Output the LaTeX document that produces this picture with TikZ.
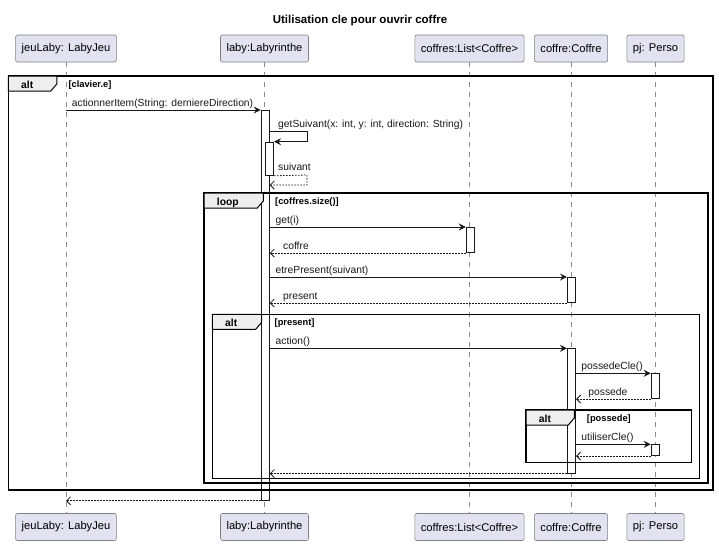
\documentclass[tikz,border=0pt]{standalone}
\usepackage{fontspec}
\setmainfont{Liberation Sans}
\usepackage{tikz}
\usetikzlibrary{arrows.meta, positioning}
\definecolor{partfill}{HTML}{E2E2F0}
\definecolor{tabfill}{HTML}{EEEEEE}
\definecolor{ink}{HTML}{181818}
\tikzstyle{basefont}=[font=\fontsize{10.3}{12}\selectfont]
\tikzstyle{participant}=[font=\fontsize{11.2}{13}\selectfont, draw=ink!55, fill=partfill, rounded corners=2pt, minimum height=27pt, inner xsep=6pt, line width=0.6pt]
\tikzstyle{lifeline}=[ink!50, line width=0.5pt, dash pattern=on 5pt off 5pt]
\tikzstyle{activation}=[draw=ink, fill=white, line width=0.8pt, minimum width=8.3pt, inner sep=0pt, anchor=north]
\tikzstyle{call}=[ink, line width=0.8pt, -{Stealth[length=7pt, width=7pt, inset=2.5pt]}]
\tikzstyle{reply}=[ink, line width=0.8pt, dash pattern=on 1.5pt off 1.5pt, -{Straight Barb[length=4pt, width=8pt]}]
\tikzstyle{msg}=[basefont, ink, anchor=base west, inner sep=0pt]
\tikzstyle{fragment}=[black, line width=1.5pt]
\tikzstyle{keyword}=[font=\fontsize{10.3}{12}\selectfont\bfseries, anchor=base west, inner sep=0pt]
\tikzstyle{guard}=[font=\fontsize{9.3}{11}\selectfont\bfseries, anchor=base west, inner sep=0pt]
% name, keyword, guard, x1, y1, x2, y2, tab width, guard x
\newcommand*{\fragment}[9]{%
	\begin{scope}[local bounding box=#1]
		\draw[fragment] (#4,#5) rectangle (#6,#7);
		\draw[fragment, fill=tabfill, line width=1pt]
			(#4,#5) -- ++(#8,0) -- ++(0,8) -- ++(-6,7) -- (#4,#5+15) -- cycle;
		\node[keyword] (#1-kw) at (#4+12.7,#5+12.5) {#2};
		\node[guard] (#1-guard) at (#9,#5+11.5) {#3};
	\end{scope}
}

\begin{document}
\begin{tikzpicture}[x=1pt, y=-1pt]
	\useasboundingbox (0,0) rectangle (719,544);

	% Title
	\node[font=\fontsize{11.5}{13}\selectfont\bfseries] (title) at (360,20.5)
		{Utilisation cle pour ouvrir coffre};

	% Participants, top and bottom, with their lifelines
	\foreach \name/\content/\x in {
		jeu/jeuLaby: LabyJeu/66,
		laby/laby:Labyrinthe/264.5,
		coffres/coffres:List<Coffre>/469.5,
		coffre/coffre:Coffre/571,
		pj/pj: Perso/655.5
	}{
		\node[participant] (\name-top) at (\x,48.5) {\content};
		\node[participant] (\name-bot) at (\x,527) {\content};
		\draw[lifeline] (\name-top) -- (\name-bot);
	}

	% Activation bars
	\foreach \name/\x/\ytop/\ybot in {
		labyA/265.2/110/500,
		labyB/269.5/141.7/175,
		coffresA/470.3/227/252.3,
		coffreA/571.5/277/302.3,
		coffreB/571.5/348.3/472.7,
		pjA/655.2/373.3/398.3,
		pjB/655.2/444.3/455.3
	}{
		\node[activation, minimum height=\ybot-\ytop] (\name) at (\x,\ytop) {};
	}

	% Combined fragments
	\fragment{altE}{alt}{[clavier.e]}{8.3}{76}{713}{490}{48.5}{68.3}
	\fragment{loopC}{loop}{[coffres.size()]}{204}{193}{708}{483}{59.3}{275}
	\fragment{altP}{alt}{[present]}{212.3}{314.3}{699.3}{478.3}{49.4}{274.5}
	\fragment{altQ}{alt}{[possede]}{526}{410}{691.7}{462.7}{48.3}{586.7}

	% Messages
	\draw[call] (jeu-top |- labyA.north) -- (labyA.north west)
		node[msg, at start, xshift=5.5pt, yshift=4pt] {actionnerItem(String: derniereDirection)};

	\coordinate (selfA) at (307,131);
	\coordinate (selfB) at (307,141.7);
	\draw[call] (labyA.east |- selfA) -- (selfA) -- (selfB) -- (labyB.north east);
	\node[msg] (getSuivant) at (278,127.5) {getSuivant(x: int, y: int, direction: String)};

	\coordinate (selfC) at (307,175);
	\coordinate (selfD) at (307,185);
	\draw[reply] (labyB.south east) -- (selfC) -- (selfD) -- (labyA.east |- selfD);
	\node[msg] (suivant) at (278,170) {suivant};

	\draw[call] (labyA.east |- coffresA.north) -- (coffresA.north west)
		node[msg, at start, xshift=5.5pt, yshift=4pt] {get(i)};
	\draw[reply] (coffresA.south west) -- (labyA.east |- coffresA.south)
		node[msg, at end, xshift=13pt, yshift=4pt] {coffre};

	\draw[call] (labyA.east |- coffreA.north) -- (coffreA.north west)
		node[msg, at start, xshift=5.5pt, yshift=4pt] {etrePresent(suivant)};
	\draw[reply] (coffreA.south west) -- (labyA.east |- coffreA.south)
		node[msg, at end, xshift=13pt, yshift=4pt] {present};

	\draw[call] (labyA.east |- coffreB.north) -- (coffreB.north west)
		node[msg, at start, xshift=5.5pt, yshift=4pt] {action()};

	\draw[call] (coffreB.east |- pjA.north) -- (pjA.north west)
		node[msg, at start, xshift=5pt, yshift=4pt] {possedeCle()};
	\draw[reply] (pjA.south west) -- (coffreB.east |- pjA.south)
		node[msg, at end, xshift=12pt, yshift=4pt] {possede};

	\draw[call] (coffreB.east |- pjB.north) -- (pjB.north west)
		node[msg, at start, xshift=5pt, yshift=4pt] {utiliserCle()};
	\draw[reply] (pjB.south west) -- (coffreB.east |- pjB.south);

	\draw[reply] (coffreB.south west) -- (labyA.east |- coffreB.south);
	\draw[reply] (labyA.south west) -- (jeu-top |- labyA.south);
\end{tikzpicture}
\end{document}
